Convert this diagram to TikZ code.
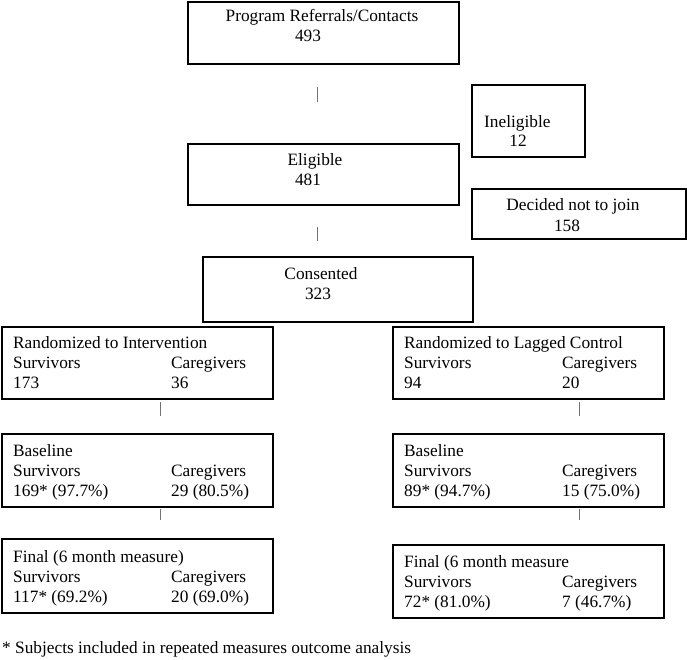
\documentclass[tikz,border=0pt]{standalone}
\usepackage{fontspec}
\setmainfont{Liberation Serif}
\begin{document}
\begin{tikzpicture}[x=1pt,y=-1pt,
  box/.style={draw=black,line width=1.8pt,rectangle,inner sep=0pt},
  tick/.style={draw=black!55,line width=0.9pt},
  ctr/.style={anchor=base,inner sep=0pt,font=\fontsize{17.3}{20}\selectfont},
  lft/.style={anchor=base west,inner sep=0pt,font=\fontsize{17.3}{20}\selectfont}]
\useasboundingbox (0,0) rectangle (687,660);
% boxes
\node[box,minimum width=271pt,minimum height=62pt] (ref) at (323.5,33) {};
\node[box,minimum width=113pt,minimum height=72pt] (inel) at (528.5,121) {};
\node[box,minimum width=271pt,minimum height=61pt] (elig) at (323.5,174.5) {};
\node[box,minimum width=214pt,minimum height=50pt] (dec) at (579,214) {};
\node[box,minimum width=270pt,minimum height=65pt] (cons) at (338,289.5) {};
\node[box,minimum width=271pt,minimum height=72pt] (randI) at (137.5,363) {};
\node[box,minimum width=271pt,minimum height=72pt] (randC) at (528.5,363) {};
\node[box,minimum width=271pt,minimum height=73pt] (baseI) at (137.5,470.5) {};
\node[box,minimum width=271pt,minimum height=73pt] (baseC) at (528.5,470.5) {};
\node[box,minimum width=271pt,minimum height=74pt] (finI) at (137.5,576) {};
\node[box,minimum width=271pt,minimum height=73pt] (finC) at (528.5,581.5) {};
% texts
\node[ctr] (t1) at (322,22) {Program Referrals/Contacts};
\node[ctr] (t2) at (308,42) {493};
\node[lft] (t3) at (484,128) {Ineligible};
\node[ctr] (t4) at (518,147) {12};
\node[ctr] (t5) at (315,166) {Eligible};
\node[ctr] (t6) at (308,186) {481};
\node[ctr] (t7) at (573,211) {Decided not to join};
\node[ctr] (t8) at (567,231) {158};
\node[ctr] (t9) at (321,279) {Consented};
\node[ctr] (t10) at (318,299) {323};
% left column
\node[lft] (a1) at (13,348) {Randomized to Intervention};
\node[lft] (a2) at (13,368) {Survivors};
\node[lft] (a3) at (171,368) {Caregivers};
\node[lft] (a4) at (13,388) {173};
\node[lft] (a5) at (171,388) {36};
\node[lft] (b1) at (13,456) {Baseline};
\node[lft] (b2) at (13,476) {Survivors};
\node[lft] (b3) at (171,476) {Caregivers};
\node[lft] (b4) at (13,496) {169* (97.7\%)};
\node[lft] (b5) at (171,496) {29 (80.5\%)};
\node[lft] (c1) at (13,562) {Final (6 month measure)};
\node[lft] (c2) at (13,582) {Survivors};
\node[lft] (c3) at (171,582) {Caregivers};
\node[lft] (c4) at (13,602) {117* (69.2\%)};
\node[lft] (c5) at (171,602) {20 (69.0\%)};
% right column
\node[lft] (d1) at (404,348) {Randomized to Lagged Control};
\node[lft] (d2) at (404,368) {Survivors};
\node[lft] (d3) at (562,368) {Caregivers};
\node[lft] (d4) at (404,388) {94};
\node[lft] (d5) at (562,388) {20};
\node[lft] (e1) at (404,456) {Baseline};
\node[lft] (e2) at (404,476) {Survivors};
\node[lft] (e3) at (562,476) {Caregivers};
\node[lft] (e4) at (404,496) {89* (94.7\%)};
\node[lft] (e5) at (562,496) {15 (75.0\%)};
\node[lft] (f1) at (404,567) {Final (6 month measure};
\node[lft] (f2) at (404,587) {Survivors};
\node[lft] (f3) at (562,587) {Caregivers};
\node[lft] (f4) at (404,607) {72* (81.0\%)};
\node[lft] (f5) at (562,607) {7 (46.7\%)};
\node[lft] (foot) at (2,653) {* Subjects included in repeated measures outcome analysis};
% tick connectors
\coordinate (k1a) at (317,87); \coordinate (k1b) at (317,102);
\coordinate (k2a) at (317,227); \coordinate (k2b) at (317,241);
\coordinate (k3a) at (160,402); \coordinate (k3b) at (160,416);
\coordinate (k4a) at (579,402); \coordinate (k4b) at (579,416);
\coordinate (k5a) at (160,509); \coordinate (k5b) at (160,520);
\coordinate (k6a) at (579,509); \coordinate (k6b) at (579,520);
\draw[tick] (k1a) -- (k1b);
\draw[tick] (k2a) -- (k2b);
\draw[tick] (k3a) -- (k3b);
\draw[tick] (k4a) -- (k4b);
\draw[tick] (k5a) -- (k5b);
\draw[tick] (k6a) -- (k6b);
\end{tikzpicture}
\end{document}
